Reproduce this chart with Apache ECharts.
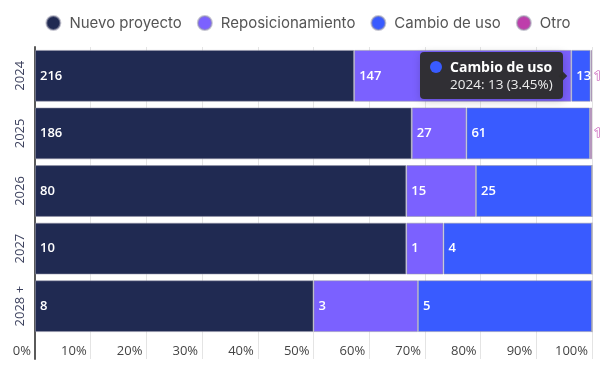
<!DOCTYPE html>
<html>
<head>
<meta charset="utf-8">
<script src="https://cdn.jsdelivr.net/npm/echarts@6/dist/echarts.min.js"></script>
<style>
html,body{margin:0;padding:0;background:#fff;}
#c{width:616px;height:384px;}
</style>
</head>
<body>
<div id="c"></div>
<script>
var categories = ['2024', '2025', '2026', '2027', '2028 +'];
var seriesNames = ['Nuevo proyecto', 'Reposicionamiento', 'Cambio de uso', 'Otro'];
var nuevo = [216, 186, 80, 10, 8];
var repos = [147, 27, 15, 1, 3];
var cambio = [13, 61, 25, 4, 5];
var otro = [1, 1, 0, 0, 0];
var tickLabels = ['0%', '10%', '20%', '30%', '40%', '50%', '60%', '70%', '80%', '90%', '100%'];

var colors = ['#202A52', '#7B61FF', '#395BFF', '#BE3DAB'];
var raw = [nuevo, repos, cambio, otro];
var totals = categories.map(function (c, i) {
  return nuevo[i] + repos[i] + cambio[i] + otro[i];
});

var chart = echarts.init(document.getElementById('c'));
var FONT = '"Open Sans", sans-serif';

function makeSeries(k) {
  var isOtro = k === 3;
  return {
    name: seriesNames[k],
    type: 'bar',
    stack: 'total',
    xAxisIndex: 0,
    yAxisIndex: 0,
    barCategoryGap: '10%',
    itemStyle: { color: colors[k], borderColor: 'rgba(150,150,170,0.55)', borderWidth: 1 },
    emphasis: { disabled: true },
    label: {
      show: true,
      position: isOtro ? 'right' : 'insideLeft',
      distance: isOtro ? 2 : 5,
      color: '#fff',
      fontFamily: FONT,
      fontWeight: 600,
      fontSize: 13,
      textBorderColor: isOtro ? colors[3] : 'transparent',
      textBorderWidth: isOtro ? 1.2 : 0,
      formatter: function (p) {
        var v = raw[k][p.dataIndex];
        return v ? String(v) : '';
      }
    },
    data: raw[k].map(function (v, i) { return v / totals[i]; })
  };
}

var option = {
  animation: false,
  textStyle: { fontFamily: FONT },
  color: colors,
  legend: {
    top: 10,
    left: 'center',
    icon: 'circle',
    itemWidth: 14,
    itemHeight: 14,
    itemGap: 15,
    textStyle: { fontFamily: 'Inter, sans-serif', fontSize: 15, color: '#555', padding: [0, 0, 0, 4] },
    data: seriesNames
  },
  tooltip: {
    trigger: 'item',
    position: 'left',
    alwaysShowContent: true,
    transitionDuration: 0,
    backgroundColor: 'rgba(45,45,45,0.97)',
    borderColor: 'rgba(45,45,45,0.97)',
    borderWidth: 0,
    padding: [6, 10, 6, 10],
    textStyle: { color: '#fff', fontFamily: FONT },
    formatter: function (p) {
      var v = raw[p.seriesIndex][p.dataIndex];
      var pct = (v / totals[p.dataIndex] * 100).toFixed(2);
      return '<div style="line-height:17px">' +
        '<span style="display:inline-block;width:12px;height:12px;border-radius:6px;background:' + colors[p.seriesIndex] + ';margin-right:8px;vertical-align:-1px"></span>' +
        '<span style="font-weight:700;font-size:14px">' + p.seriesName + '</span><br/>' +
        '<span style="font-size:13.5px;color:#eee;margin-left:20px">' + categories[p.dataIndex] + ': ' + v + ' (' + pct + '%)</span></div>';
    }
  },
  grid: [
    { left: 35, right: 24, top: 47, height: 288 },
    { left: 35, right: 24, top: 335, height: 24 }
  ],
  xAxis: [
    {
      gridIndex: 0, type: 'value', min: 0, max: 1, interval: 0.1,
      axisLine: { show: false }, axisTick: { show: false }, axisLabel: { show: false },
      splitLine: { show: true, lineStyle: { color: '#e4e4e4', width: 1 } }
    },
    {
      gridIndex: 1, type: 'value', min: 0, max: 1, interval: 0.1,
      axisLine: { show: false }, axisTick: { show: false },
      splitLine: { show: true, lineStyle: { color: '#e4e4e4', width: 1 } },
      axisLabel: {
        inside: true, margin: 1, align: 'right', padding: [0, 4, 0, 0],
        fontSize: 13, color: '#444', fontFamily: FONT,
        formatter: function (v) { return tickLabels[Math.round(v * 10)]; }
      }
    }
  ],
  yAxis: [
    {
      gridIndex: 0, type: 'category', inverse: true, data: categories,
      axisLine: { show: true, lineStyle: { color: '#5a5a5a', width: 2 } },
      axisTick: { show: false },
      axisLabel: { rotate: 90, fontSize: 13, color: '#3a3f5c', fontFamily: FONT, margin: 8 }
    },
    {
      gridIndex: 1, type: 'value', min: 0, max: 1,
      axisLine: { show: true, onZero: false, lineStyle: { color: '#5a5a5a', width: 2 } },
      axisTick: { show: false }, axisLabel: { show: false }, splitLine: { show: false }
    }
  ],
  series: [0, 1, 2, 3].map(makeSeries)
};

chart.setOption(option);
chart.dispatchAction({ type: 'showTip', seriesIndex: 2, dataIndex: 0 });
</script>
</body>
</html>
